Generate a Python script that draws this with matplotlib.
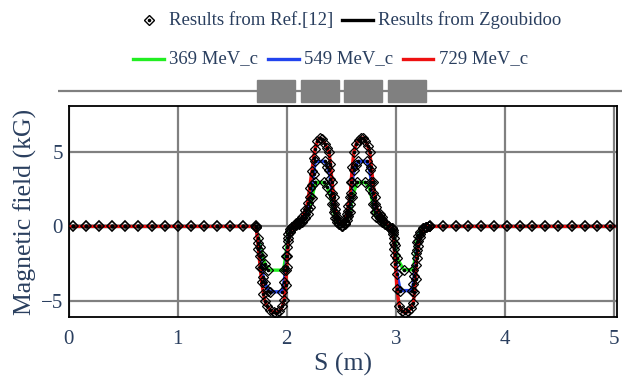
import matplotlib
matplotlib.use("Agg")
import matplotlib.pyplot as plt
from matplotlib.lines import Line2D
from matplotlib.patches import Rectangle
import numpy as np

# ---------------- data ----------------
red_s = [0.00, 1.70, 1.72, 1.74, 1.755, 1.77, 1.785, 1.80, 1.82, 1.85, 1.88, 1.90, 1.93, 1.96,
         1.975, 1.99, 2.00, 2.015, 2.03, 2.05, 2.08, 2.11, 2.14, 2.17, 2.19, 2.21, 2.23, 2.245,
         2.26, 2.28, 2.30, 2.32, 2.35, 2.37, 2.386, 2.40, 2.415, 2.43, 2.445, 2.46, 2.48, 2.505,
         2.53, 2.55, 2.565, 2.58, 2.59, 2.60, 2.615, 2.635, 2.66, 2.68, 2.70, 2.72, 2.74, 2.76,
         2.775, 2.79, 2.805, 2.82, 2.85, 2.87, 2.90, 2.93, 2.96, 2.975, 2.985, 2.995, 3.01, 3.03,
         3.055, 3.085, 3.11, 3.14, 3.16, 3.17, 3.18, 3.19, 3.205, 3.22, 3.25, 3.28, 3.30, 5.00]
red_b = [0.0, 0.0, -0.05, -1.5, -2.7, -3.7, -4.5, -5.0, -5.35, -5.6, -5.75, -5.8, -5.7, -5.35,
         -4.9, -3.9, -2.7, -1.0, -0.4, -0.05, 0.2, 0.35, 0.6, 1.07, 1.6, 2.6, 3.7, 4.6,
         5.2, 5.7, 5.92, 5.85, 5.55, 5.25, 5.0, 4.2, 3.0, 1.95, 1.15, 0.62, 0.25, 0.08,
         0.3, 0.8, 1.4, 1.95, 3.0, 4.0, 5.0, 5.5, 5.8, 5.92, 5.92, 5.75, 5.4, 5.0,
         4.0, 3.0, 2.0, 1.3, 0.85, 0.6, 0.25, 0.05, -0.15, -0.5, -1.5, -2.5, -4.2, -5.3,
         -5.65, -5.8, -5.7, -5.45, -5.1, -4.4, -3.5, -2.1, -1.3, -0.7, -0.15, -0.02, 0.0, 0.0]

blue_s = [0.00, 1.70, 1.72, 1.74, 1.755, 1.77, 1.785, 1.80, 1.83, 1.85, 1.96, 1.975, 1.99, 2.00,
          2.015, 2.03, 2.05, 2.08, 2.11, 2.14, 2.17, 2.19, 2.21, 2.23, 2.245, 2.26, 2.35, 2.37,
          2.386, 2.40, 2.415, 2.43, 2.445, 2.46, 2.48, 2.505, 2.53, 2.55, 2.565, 2.58, 2.59, 2.60,
          2.615, 2.635, 2.655, 2.735, 2.76, 2.775, 2.79, 2.805, 2.82, 2.85, 2.87, 2.90, 2.93, 2.96,
          2.975, 2.985, 2.995, 3.01, 3.04, 3.145, 3.16, 3.17, 3.18, 3.19, 3.205, 3.22, 3.25, 3.28,
          3.30, 5.00]
blue_b = [0.0, 0.0, -0.04, -1.1, -2.0, -2.8, -3.4, -3.8, -4.3, -4.38, -4.38, -3.7, -2.9, -2.0,
          -0.75, -0.3, -0.04, 0.15, 0.26, 0.45, 0.8, 1.2, 2.0, 2.8, 3.5, 4.36, 4.36, 4.0,
          3.75, 3.15, 2.25, 1.47, 0.87, 0.47, 0.19, 0.06, 0.23, 0.6, 1.05, 1.47, 2.25, 3.0,
          3.75, 4.1, 4.36, 4.36, 3.75, 3.0, 2.25, 1.5, 1.0, 0.64, 0.45, 0.19, 0.04, -0.11,
          -0.38, -1.13, -1.9, -3.2, -4.3, -4.3, -3.85, -3.3, -2.6, -1.6, -1.0, -0.53, -0.11, -0.02,
          0.0, 0.0]

green_s = [0.00, 1.70, 1.72, 1.74, 1.755, 1.775, 1.80, 1.83, 1.97, 1.99, 2.00, 2.015, 2.03, 2.05,
           2.08, 2.11, 2.14, 2.17, 2.19, 2.21, 2.23, 2.262, 2.338, 2.37, 2.40, 2.415, 2.43, 2.445,
           2.46, 2.48, 2.505, 2.53, 2.55, 2.565, 2.58, 2.60, 2.645, 2.72, 2.76, 2.79, 2.805, 2.82,
           2.85, 2.87, 2.90, 2.93, 2.96, 2.975, 2.985, 2.995, 3.01, 3.07, 3.16, 3.18, 3.19, 3.205,
           3.22, 3.25, 3.28, 3.30, 5.00]
green_b = [0.0, 0.0, -0.03, -0.75, -1.35, -1.9, -2.5, -2.93, -2.93, -2.0, -1.37, -0.5, -0.2, -0.03,
           0.1, 0.18, 0.3, 0.54, 0.8, 1.3, 1.9, 2.95, 2.95, 2.65, 2.1, 1.5, 1.0, 0.58,
           0.31, 0.13, 0.04, 0.15, 0.4, 0.7, 1.0, 2.0, 2.95, 2.95, 2.5, 1.5, 1.0, 0.66,
           0.43, 0.3, 0.13, 0.03, -0.08, -0.25, -0.75, -1.27, -2.1, -2.9, -2.9, -1.8, -1.06, -0.66,
           -0.35, -0.08, -0.01, 0.0, 0.0]

# Ref.[12] points in the field-free drifts (B = 0)
ref_flat_s = [0.04, 0.16, 0.28, 0.40, 0.52, 0.64, 0.76, 0.88, 1.00, 1.12, 1.24, 1.36, 1.48, 1.60,
              1.72, 3.31, 3.43, 3.55, 3.66, 3.78, 3.90, 4.02, 4.14, 4.25, 4.37, 4.49, 4.61, 4.73,
              4.84, 4.96]
ref_flat_b = [0.0] * len(ref_flat_s)

magnet_start = [1.727, 2.130, 2.525, 2.927]
magnet_len = [0.348, 0.348, 0.348, 0.348]

series_labels = ["369 MeV_c", "549 MeV_c", "729 MeV_c"]
series_colors = ["#22ee22", "#2244ee", "#ee1111"]
x_ticks = [0, 1, 2, 3, 4, 5]
y_ticks = [-5, 0, 5]

# ---------------- figure ----------------
W, H = 622, 381
plt.rcParams['font.family'] = ['Liberation Serif', 'DejaVu Serif']
TXT = "#2a3f5f"
fig = plt.figure(figsize=(W / 100, H / 100), dpi=100)

def fx(px):
    return px / W

def fy(py):
    return 1 - py / H

L, R, T, B = 68.6, 617.0, 106.0, 317.0
ax = fig.add_axes([fx(L), fy(B), fx(R) - fx(L), fy(T) - fy(B)])
ppu = 109.1
ax.set_xlim(0, (R - L) / ppu)
ax.set_ylim(-6.07, 8.07)
ax.set_xticks(x_ticks)
ax.set_yticks(y_ticks)
ax.set_yticklabels(["\u22125", "0", "5"])
ax.grid(True, color="#808080", linewidth=1.6)
ax.set_axisbelow(True)
ax.tick_params(length=0, labelsize=15, labelcolor=TXT)
ax.tick_params(axis='x', pad=9)
ax.tick_params(axis='y', pad=4)
for sp in ax.spines.values():
    sp.set_color("black")
    sp.set_linewidth(1.3)
ax.set_xlabel("S (m)", fontsize=18.5, color=TXT, labelpad=3)
ax.set_ylabel("Magnetic field (kG)", fontsize=18.5, color=TXT, labelpad=3)

curves = [(green_s, green_b), (blue_s, blue_b), (red_s, red_b)]
for (s, b), c in zip(curves, series_colors):
    ax.plot(s, b, color=c, linewidth=2.4, solid_joinstyle='round', zorder=3)

for s, b in curves:
    ms = [v for v in s if 1.71 <= v <= 3.30]
    mb = [bv for v, bv in zip(s, b) if 1.71 <= v <= 3.30]
    ax.plot(ms, mb, linestyle='none', marker='D', markersize=5, mfc='none', mec='black',
            mew=0.9, zorder=4)
    ax.plot(ms, mb, linestyle='none', marker='o', markersize=1.6, color='black', zorder=4)
ax.plot(ref_flat_s, ref_flat_b, linestyle='none', marker='D', markersize=5, mfc='none',
        mec='black', mew=1.2, zorder=4)
ax.plot(ref_flat_s, ref_flat_b, linestyle='none', marker='o', markersize=2.2, color='black',
        zorder=4)

# beamline schematic
sax = fig.add_axes([fx(58), fy(104), fx(622) - fx(58), fy(78) - fy(104)])
sax.set_xlim((58 - L) / ppu, (622 - L) / ppu)
sax.set_ylim(104, 78)
sax.axis('off')
sax.axhline(90.7, color="#808080", linewidth=1.6)
for st, ln in zip(magnet_start, magnet_len):
    sax.add_patch(Rectangle((st, 80), ln, 21.7, color="#808080", zorder=3))

# legend (manual)
def leg_line(x0, x1, y, color):
    fig.add_artist(Line2D([fx(x0), fx(x1)], [fy(y), fy(y)], color=color, linewidth=2.4,
                          transform=fig.transFigure))

def leg_text(x, y, s):
    fig.text(fx(x), fy(y), s, fontsize=13.5, color=TXT, ha='left', va='center')

fig.add_artist(Line2D([fx(149)], [fy(20)], marker='D', markersize=5, mfc='none', mec='black',
                      mew=1.0, linestyle='none', transform=fig.transFigure))
fig.add_artist(Line2D([fx(149)], [fy(20)], marker='o', markersize=1.6, color='black',
                      linestyle='none', transform=fig.transFigure))
leg_text(169, 20, "Results from Ref.[12]")
leg_line(342, 373, 20, "black")
leg_text(378, 20, "Results from Zgoubidoo")

leg_line(133, 164, 59, series_colors[0])
leg_text(169, 59, series_labels[0])
leg_line(268, 299, 59, series_colors[1])
leg_text(304, 59, series_labels[1])
leg_line(403, 433, 59, series_colors[2])
leg_text(439, 59, series_labels[2])

fig.savefig("out.png", dpi=100)
